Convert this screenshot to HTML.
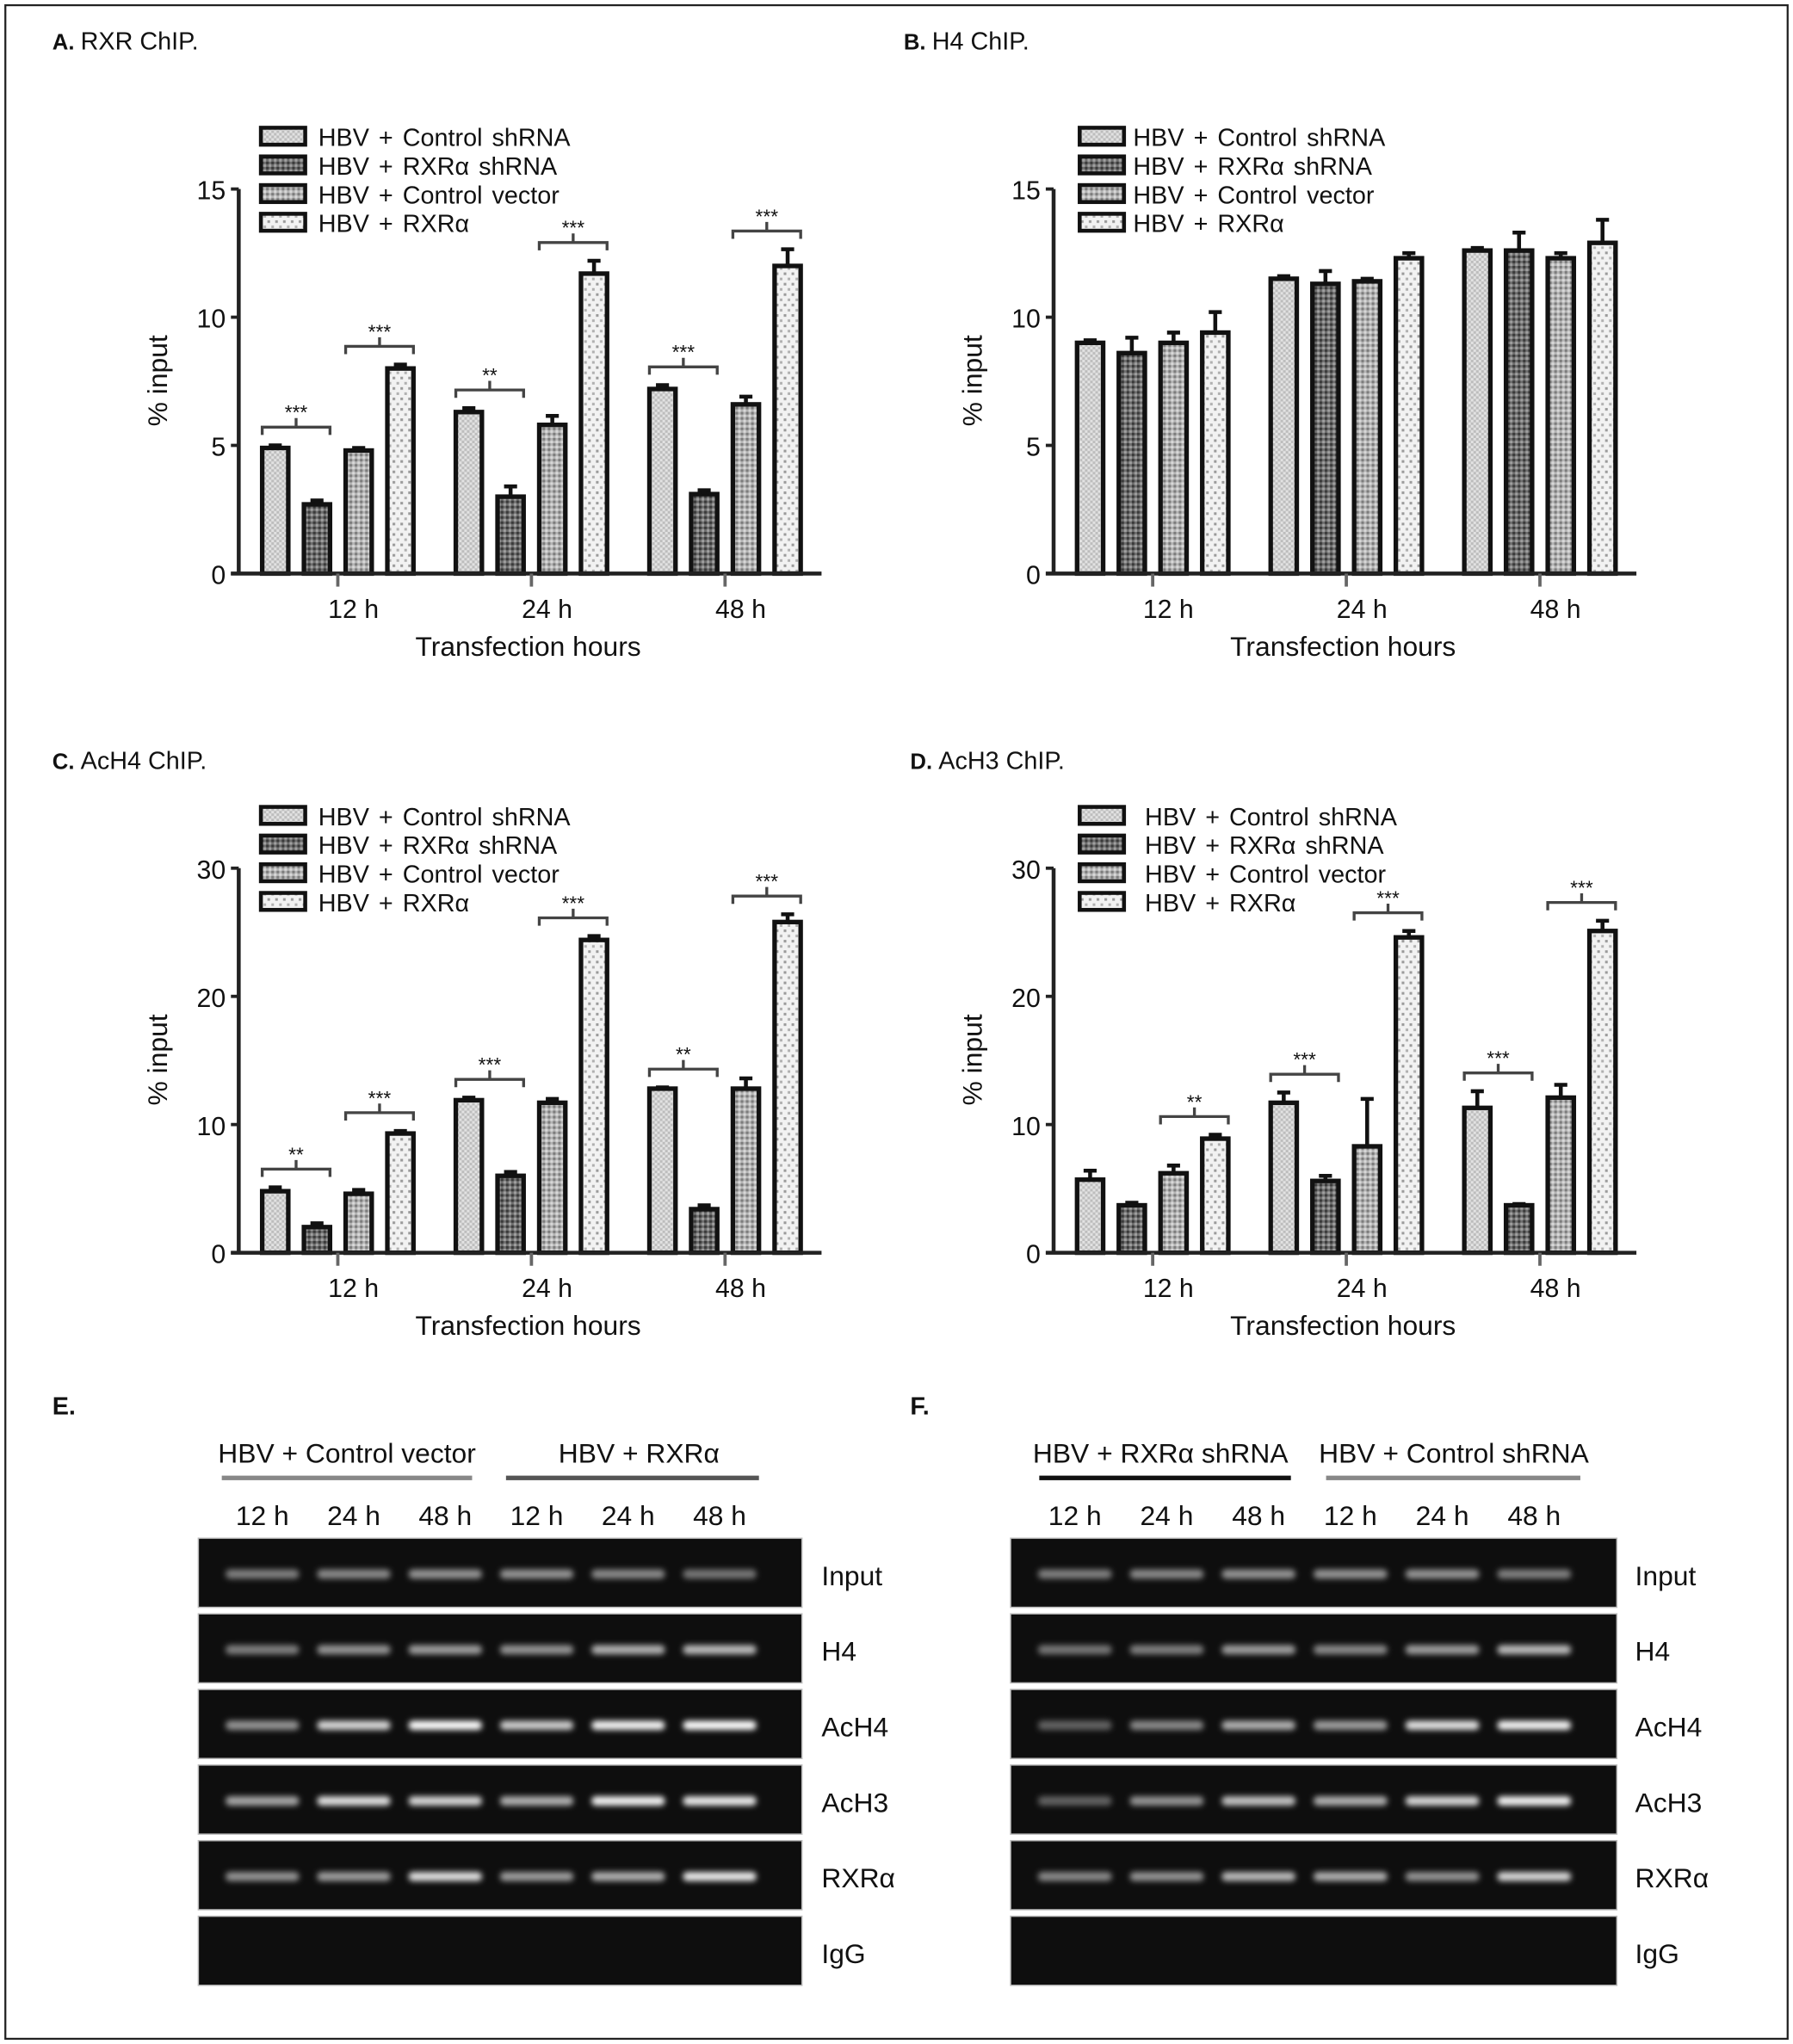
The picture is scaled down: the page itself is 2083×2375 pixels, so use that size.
<!DOCTYPE html>
<html><head><meta charset="utf-8">
<style>
html,body{margin:0;padding:0;background:#fff;}
svg{display:block;}
text{font-family:"Liberation Sans Narrow","Liberation Sans",sans-serif;fill:#111;}
</style></head>
<body>
<svg id="fig" width="2083" height="2375" viewBox="0 0 1375 1568" xmlns="http://www.w3.org/2000/svg">
<defs>
<pattern id="p1" width="4" height="4" patternUnits="userSpaceOnUse"><rect width="4" height="4" fill="#e2e2e2"/><rect width="2" height="2" fill="#bdbdbd"/><rect x="2" y="2" width="2" height="2" fill="#bdbdbd"/></pattern>
<pattern id="p2" width="4" height="4" patternUnits="userSpaceOnUse"><rect width="4" height="4" fill="#6e6e6e"/><rect width="2" height="2" fill="#3a3a3a"/><rect x="2" y="2" width="2" height="2" fill="#a0a0a0"/></pattern>
<pattern id="p3" width="4" height="4" patternUnits="userSpaceOnUse"><rect width="4" height="4" fill="#b4b4b4"/><rect width="2" height="2" fill="#7c7c7c"/><rect x="2" y="2" width="2" height="2" fill="#d8d8d8"/></pattern>
<pattern id="p4" width="6" height="8" patternUnits="userSpaceOnUse"><rect width="6" height="8" fill="#f2f2f2"/><rect x="1" y="1" width="2" height="2" fill="#9a9a9a"/><rect x="4" y="5" width="2" height="2" fill="#b0b0b0"/></pattern>
<filter id="blur" x="-30%" y="-100%" width="160%" height="300%"><feGaussianBlur stdDeviation="2.2"/></filter>
</defs>
<rect x="4" y="4" width="1367" height="1560" fill="none" stroke="#222" stroke-width="1.5"/>
<g id="charts"></g>
<g id="gels"></g>
</svg>
<script>
// ---- Chart data ----
const groups = ["12 h","24 h","48 h"];
const legendLabels = ["HBV  +  Control  shRNA","HBV  +  RXR\u03b1  shRNA","HBV  +  Control  vector","HBV  +  RXR\u03b1"];
const aValues = [[4.9,2.7,4.8,8.0],[6.3,3.0,5.8,11.7],[7.2,3.1,6.6,12.0]];
const aErrors = [[0.1,0.15,0.1,0.15],[0.15,0.4,0.35,0.5],[0.15,0.15,0.3,0.65]];
const aSig = [[0,0,1,"***"],[0,2,3,"***"],[1,0,1,"**"],[1,2,3,"***"],[2,0,1,"***"],[2,2,3,"***"]];
const aTicks = [0,5,10,15];
const bValues = [[9.0,8.6,9.0,9.4],[11.5,11.3,11.4,12.3],[12.6,12.6,12.3,12.9]];
const bErrors = [[0.1,0.6,0.4,0.8],[0.1,0.5,0.1,0.2],[0.1,0.7,0.2,0.9]];
const bSig = [];
const bTicks = [0,5,10,15];
const cValues = [[4.8,2.0,4.6,9.3],[11.9,6.0,11.7,24.4],[12.8,3.4,12.8,25.8]];
const cErrors = [[0.3,0.3,0.3,0.2],[0.2,0.3,0.3,0.3],[0.1,0.3,0.8,0.6]];
const cSig = [[0,0,1,"**"],[0,2,3,"***"],[1,0,1,"***"],[1,2,3,"***"],[2,0,1,"**"],[2,2,3,"***"]];
const cTicks = [0,10,20,30];
const dValues = [[5.7,3.7,6.2,8.9],[11.7,5.6,8.3,24.6],[11.3,3.7,12.1,25.1]];
const dErrors = [[0.7,0.2,0.6,0.3],[0.8,0.4,3.7,0.5],[1.3,0.1,1.0,0.8]];
const dSig = [[0,2,3,"**"],[1,0,1,"***"],[1,2,3,"***"],[2,0,1,"***"],[2,2,3,"***"]];
const dTicks = [0,10,20,30];

const NS="http://www.w3.org/2000/svg";
function mk(tag,attrs,parent,txt){const e=document.createElementNS(NS,tag);for(const k in attrs)e.setAttribute(k,attrs[k]);if(txt!==undefined)e.textContent=txt;parent.appendChild(e);return e;}
const fills=["url(#p1)","url(#p2)","url(#p3)","url(#p4)"];

function drawChart(cfg){
  const root=document.getElementById("charts");
  const g=mk("g",{},root);
  
  
  const x0=cfg.x0, y0=cfg.y0, yTop=y0-295, xEnd=x0+447, max=cfg.ticks[cfg.ticks.length-1];
  const ys=v=>y0-v*(y0-yTop)/max;
  const xs=(gi,bi)=>x0+28+gi*148.5+bi*32;
  // title
  const t=mk("text",{x:cfg.tx,y:cfg.ty,"font-size":19},g);
  
  
  mk("tspan",{"font-weight":"bold","font-family":"Liberation Sans, sans-serif","font-size":17},t,cfg.letter+" ");
  mk("tspan",{},t,cfg.title);
  // legend
  legendLabels.forEach((lab,i)=>{
    const ly=cfg.ly+i*22;
    const r=mk("rect",{x:cfg.lx,y:ly-7,width:34,height:13,fill:fills[i],stroke:"#111","stroke-width":3},g);
    
    
    const tx=mk("text",{x:cfg.lx+cfg.ltx,y:ly+7,"font-size":19,"word-spacing":"2"},g,lab);
    
    
  });
  // bars
  cfg.values.forEach((row,gi)=>row.forEach((v,bi)=>{
    const cx=xs(gi,bi), top=ys(v), e=cfg.errors[gi][bi];
    const b=mk("rect",{x:cx-10,y:top,width:20,height:y0-top,fill:fills[bi],stroke:"#111","stroke-width":3.5},g);
    
    
    const et=ys(v+e);
    const el=mk("path",{d:`M${cx} ${top}V${et}M${cx-5} ${et}H${cx+5}`,stroke:"#111","stroke-width":3,fill:"none"},g);
    
    
  }));
  // significance
  cfg.sig.forEach(s=>{
    const [gi,b1,b2,lab]=s;
    const hi=Math.max(cfg.values[gi][b1]+cfg.errors[gi][b1],cfg.values[gi][b2]+cfg.errors[gi][b2]);
    const by=ys(hi)-14, xa=xs(gi,b1)-10, xb=xs(gi,b2)+10, xm=(xa+xb)/2;
    const p=mk("path",{d:`M${xa} ${by+6}V${by}H${xb}V${by+6}M${xm} ${by}V${by-7}`,stroke:"#444","stroke-width":2.2,fill:"none"},g);
    
    
    const st=mk("text",{x:xm,y:by-6,"font-size":15,"text-anchor":"middle",fill:"#444"},g,lab);
    
    
  });
  // axes
  const ax=mk("path",{d:`M${x0} ${yTop}V${y0}M${x0-6} ${y0}H${xEnd}`,stroke:"#222","stroke-width":3,fill:"none"},g);
  
  
  cfg.ticks.forEach(v=>{
    const y=ys(v);
    const tk=mk("path",{d:`M${x0-6} ${y}H${x0}`,stroke:"#222","stroke-width":2.5},g);
    
    
    const tl=mk("text",{x:x0-10,y:y+8,"font-size":20,"text-anchor":"end"},g,String(v));
    
    
  });
  groups.forEach((lab,gi)=>{
    const cx=(xs(gi,1)+xs(gi,2))/2;
    const tk=mk("path",{d:`M${cx} ${y0}V${y0+10}`,stroke:"#666","stroke-width":2.5},g);
    
    
    const tl=mk("text",{x:cx+12,y:y0+34,"font-size":20,"text-anchor":"middle"},g,lab);
    
    
  });
  const xt=mk("text",{x:x0+222,y:y0+63,"font-size":21,"text-anchor":"middle"},g,"Transfection hours");
  
  
  const yt=mk("text",{x:0,y:0,"font-size":21,"text-anchor":"middle",transform:`translate(${x0-55},${y0-148}) rotate(-90)`},g,"% input");
  
  
}
drawChart({id:"rxr-chip",letter:"A.",title:"RXR ChIP.",tx:40,ty:38,x0:183,y0:440,lx:200,ly:105,ltx:44,ticks:aTicks,values:aValues,errors:aErrors,sig:aSig});
drawChart({id:"h4-chip",letter:"B.",title:"H4 ChIP.",tx:693,ty:38,x0:808,y0:440,lx:828,ly:105,ltx:41,ticks:bTicks,values:bValues,errors:bErrors,sig:bSig});
drawChart({id:"ach4-chip",letter:"C.",title:"AcH4 ChIP.",tx:40,ty:590,x0:183,y0:961,lx:200,ly:626,ltx:44,ticks:cTicks,values:cValues,errors:cErrors,sig:cSig});
drawChart({id:"ach3-chip",letter:"D.",title:"AcH3 ChIP.",tx:698,ty:590,x0:808,y0:961,lx:828,ly:626,ltx:50,ticks:dTicks,values:dValues,errors:dErrors,sig:dSig});

// ---- Gel data ----
const gelRows = ["Input","H4","AcH4","AcH3","RXR\u03b1","IgG"];
const laneLabels = ["12 h","24 h","48 h","12 h","24 h","48 h"];
const gelE = [[0.35,0.4,0.45,0.45,0.4,0.3],[0.35,0.45,0.5,0.45,0.6,0.65],[0.45,0.8,1.0,0.75,0.95,1.0],[0.55,0.85,0.8,0.6,0.95,0.9],[0.45,0.5,0.85,0.5,0.6,0.9],[0,0,0,0,0,0]];
const gelF = [[0.35,0.4,0.45,0.45,0.45,0.35],[0.3,0.35,0.5,0.4,0.5,0.65],[0.2,0.4,0.6,0.5,0.85,0.95],[0.2,0.45,0.7,0.6,0.8,0.95],[0.4,0.45,0.65,0.6,0.45,0.8],[0,0,0,0,0,0]];
const rowTops=[1180,1238,1296,1354,1412,1470];

function drawGel(cfg){
  const root=document.getElementById("gels");
  const g=mk("g",{},root);
  
  
  const t=mk("text",{x:cfg.tx,y:1085,"font-size":19,"font-weight":"bold","font-family":"Liberation Sans, sans-serif"},g,cfg.letter);
  
  
  cfg.headers.forEach((h,i)=>{
    const ht=mk("text",{x:h.cx,y:1122,"font-size":21,"text-anchor":"middle"},g,h.label);
    
    
    const hl=mk("rect",{x:h.x1,y:1132,width:h.x2-h.x1,height:3.5,fill:h.color},g);
    
    
  });
  const x0=cfg.x0, w=cfg.w, lw=w/6.6;
  laneLabels.forEach((l,i)=>{
    const ll=mk("text",{x:x0+lw*(i+0.7),y:1170,"font-size":21,"text-anchor":"middle"},g,l);
    
    
  });
  gelRows.forEach((r,ri)=>{
    const ty=rowTops[ri];
    const bg=mk("rect",{x:x0,y:ty,width:w,height:53,fill:"#0e0e0e",stroke:"#bbb","stroke-width":1},g);
    
    
    cfg.data[ri].forEach((v,li)=>{
      if(v<=0)return;
      const c=Math.round(60+195*v);
      const band=mk("rect",{x:x0+lw*(li+0.7)-lw*0.4,y:ty+24,width:lw*0.8,height:7,rx:3,fill:`rgb(${c},${c},${c})`,filter:"url(#blur)"},g);
      
      
    });
    const rl=mk("text",{x:cfg.labelX,y:ty+36,"font-size":21},g,r);
    
    
  });
}
drawGel({id:"e",letter:"E.",tx:40,x0:152,w:463,labelX:630,data:gelE,headers:[{label:"HBV + Control vector",cx:266,x1:170,x2:362,color:"#888"},{label:"HBV + RXR\u03b1",cx:490,x1:388,x2:582,color:"#555"}]});
drawGel({id:"f",letter:"F.",tx:698,x0:775,w:465,labelX:1254,data:gelF,headers:[{label:"HBV + RXR\u03b1  shRNA",cx:890,x1:797,x2:990,color:"#111"},{label:"HBV + Control shRNA",cx:1115,x1:1017,x2:1212,color:"#888"}]});
</script>
</body></html>
